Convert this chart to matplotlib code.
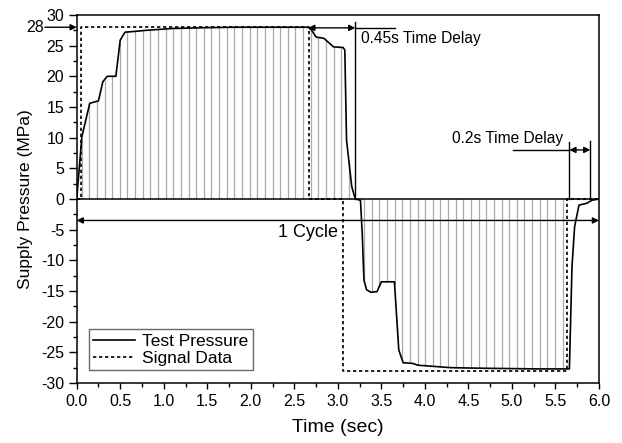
import numpy as np
import matplotlib
matplotlib.use("Agg")
import matplotlib.pyplot as plt
from matplotlib.ticker import MultipleLocator

t_test = [0, 0.06, 0.15, 0.25, 0.30, 0.35, 0.45, 0.50, 0.555, 0.65, 0.80, 1.10,
          1.40, 1.80, 2.30, 2.66, 2.70, 2.75, 2.84, 2.95, 3.06, 3.08, 3.10, 3.16,
          3.20, 3.26, 3.28, 3.30, 3.33, 3.38, 3.45, 3.50, 3.65, 3.70, 3.75, 3.86,
          3.92, 4.30, 4.70, 5.30, 5.66, 5.69, 5.72, 5.77, 5.86, 5.92, 6.0]
p_test = [0, 10.2, 15.6, 16.0, 19.1, 20.0, 20.0, 25.9, 27.2, 27.3, 27.5, 27.8,
          27.9, 28.0, 28.0, 28.0, 27.5, 26.4, 26.2, 24.8, 24.7, 24.3, 9.6, 2.0,
          0, -0.2, -5.6, -13.2, -14.8, -15.2, -15.1, -13.5, -13.5, -24.6, -26.7, -26.8,
          -27.1, -27.5, -27.6, -27.7, -27.7, -11.0, -4.5, -1.0, -0.7, -0.2, 0]

# command signal
t_sig = [0, 0.05, 0.05, 2.67, 2.67, 3.06, 3.06, 5.63, 5.63, 6.0]
p_sig = [0, 0, 28, 28, 0, 0, -28, -28, 0, 0]

# time delay marks
delay1 = (2.66, 3.20)
delay2 = (5.66, 5.90)

plt.rcParams['font.family'] = ['Liberation Sans', 'DejaVu Sans']
plt.rcParams['axes.unicode_minus'] = False

fig = plt.figure(figsize=(6.22, 4.43), dpi=100)
ax = fig.add_axes([0.1233, 0.1354, 0.8397, 0.8308])

# grey drop lines under the curve
xs = np.arange(0.057, 5.6, 0.0877)
ax.vlines(xs, 0, np.interp(xs, t_test, p_test), colors='#a9a9a9', lw=0.9, zorder=1)

ax.axhline(0, color='k', lw=1.1, zorder=2)
ax.plot(t_test, p_test, color='k', lw=1.2, label='Test Pressure', zorder=4)
ax.plot(t_sig, p_sig, color='k', lw=1.2, ls=(0, (2, 1.6)), label='Signal Data', zorder=3)

arr = dict(arrowstyle='<|-|>', color='k', lw=1.0, mutation_scale=9,
           shrinkA=0, shrinkB=0)

# 0.45 s delay
ax.annotate('', xy=(delay1[0], 27.9), xytext=(delay1[1], 27.9), arrowprops=arr)
ax.plot([delay1[1], 3.66], [27.9, 27.9], color='k', lw=1.0)
ax.plot([delay1[1], delay1[1]], [0, 28.8], color='k', lw=1.0)
ax.text(3.27, 25.4, '0.45s Time Delay', fontsize=11.2, va='baseline', ha='left')

# 0.2 s delay
ax.annotate('', xy=(delay2[0], 8.0), xytext=(delay2[1], 8.0), arrowprops=arr)
ax.plot([5.01, delay2[0]], [8.0, 8.0], color='k', lw=1.0)
ax.plot([delay2[0], delay2[0]], [0, 9.3], color='k', lw=1.0)
ax.plot([delay2[1], delay2[1]], [0, 9.5], color='k', lw=1.0)
ax.text(5.59, 9.2, '0.2s Time Delay', fontsize=11.2, va='baseline', ha='right')

# one cycle
ax.annotate('', xy=(0, -3.5), xytext=(6.0, -3.5), arrowprops=arr)
ax.text(3.0, -6.25, '1 Cycle', fontsize=13, va='baseline', ha='right')

# 28 MPa marker
ax.annotate('', xy=(0.0, 28), xytext=(-0.365, 28),
            arrowprops=dict(arrowstyle='-|>', color='k', lw=1.0, mutation_scale=9,
                            shrinkA=0, shrinkB=0), annotation_clip=False)
ax.text(-0.375, 28, '28', fontsize=11.5, ha='right', va='center')

ax.set_xlim(0, 6)
ax.set_ylim(-30, 30)
ax.xaxis.set_major_locator(MultipleLocator(0.5))
ax.xaxis.set_minor_locator(MultipleLocator(0.25))
ax.yaxis.set_major_locator(MultipleLocator(5))
ax.yaxis.set_minor_locator(MultipleLocator(2.5))
ax.xaxis.set_major_formatter(plt.FormatStrFormatter('%.1f'))
ax.tick_params(which='both', direction='out', top=False, right=False, labelsize=11.5, width=1)
ax.tick_params(axis='x', which='major', length=4, pad=4)
ax.tick_params(axis='x', which='minor', length=3)
ax.tick_params(axis='y', which='major', length=6, pad=3)
ax.tick_params(axis='y', which='minor', length=3)
for s in ax.spines.values():
    s.set_linewidth(1.1)

ax.set_xlabel('Time (sec)', fontsize=14, labelpad=7)
ax.set_ylabel('Supply Pressure (MPa)', fontsize=12.5, labelpad=6)

leg = ax.legend(loc='lower left', bbox_to_anchor=(0.0236, 0.035), borderaxespad=0,
                fancybox=False, fontsize=12.5, handlelength=2.4, handletextpad=0.4,
                labelspacing=0.1, borderpad=0.25)
leg.get_frame().set_edgecolor('#444444')
leg.get_frame().set_linewidth(1.0)

fig.savefig('out.png', dpi=100)
